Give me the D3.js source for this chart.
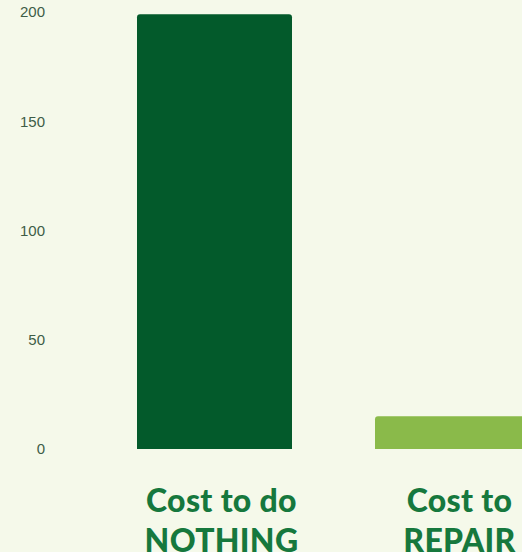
<!DOCTYPE html>
<html>
<head>
<meta charset="UTF-8">
<title>Cost chart</title>
<script src="https://cdn.jsdelivr.net/npm/d3@7/dist/d3.min.js"></script>
<style>
body { margin: 0; background: #f5f9ea; }
.tick text { font-family: "Liberation Sans", Arial, sans-serif; font-size: 15px; fill: #3e5d47; }
.cat { font-family: Lato, sans-serif; font-weight: 900; font-size: 32px; fill: #16783d; letter-spacing: 0.3px; }
</style>
</head>
<body>
<div id="vis"></div>
<script>
// data
var categories = ["Cost to do NOTHING", "Cost to REPAIR"];
var labelLines = [["Cost to do", "NOTHING"], ["Cost to", "REPAIR"]];
var values = [199, 15];
var colors = ["#035a2b", "#8aba4a"];
var yTicks = [0, 50, 100, 150, 200];

var width = 522, height = 552;

var svg = d3.select("#vis").append("svg")
  .attr("width", width)
  .attr("height", height)
  .style("display", "block");

svg.append("rect").attr("width", width).attr("height", height).attr("fill", "#f5f9ea");

var y = d3.scaleLinear().domain([0, 200]).range([449, 12]);
var x = d3.scaleBand().domain(categories).range([137, 530]).paddingInner(83/238).paddingOuter(0);

// y axis, labels only
var yAxis = svg.append("g")
  .attr("transform", "translate(45,0)")
  .call(d3.axisLeft(y).tickValues(yTicks).tickSize(0).tickPadding(0));
yAxis.select(".domain").remove();

// bars with rounded top corners
var r = 3;
svg.selectAll(".bar")
  .data(values)
  .enter()
  .append("path")
  .attr("class", "bar")
  .attr("fill", function(d, i) { return colors[i]; })
  .attr("d", function(d, i) {
    var x0 = x(categories[i]), x1 = x0 + x.bandwidth();
    var y0 = y(d), yb = y(0);
    return "M" + x0 + "," + yb +
      "V" + (y0 + r) +
      "Q" + x0 + "," + y0 + " " + (x0 + r) + "," + y0 +
      "H" + (x1 - r) +
      "Q" + x1 + "," + y0 + " " + x1 + "," + (y0 + r) +
      "V" + yb + "Z";
  });

// category labels (second line runs off the bottom, as in the original)
var lab = svg.selectAll(".cat")
  .data(labelLines)
  .enter()
  .append("text")
  .attr("class", "cat")
  .attr("text-anchor", "middle")
  .attr("x", function(d, i) { return x(categories[i]) + x.bandwidth() / 2 + 7; })
  .attr("y", 512);

lab.selectAll("tspan")
  .data(function(d) { return d; })
  .enter()
  .append("tspan")
  .attr("x", function() { return d3.select(this.parentNode).attr("x"); })
  .attr("dy", function(d, j) { return j ? 40 : 0; })
  .text(function(d) { return d; });
</script>
</body>
</html>
